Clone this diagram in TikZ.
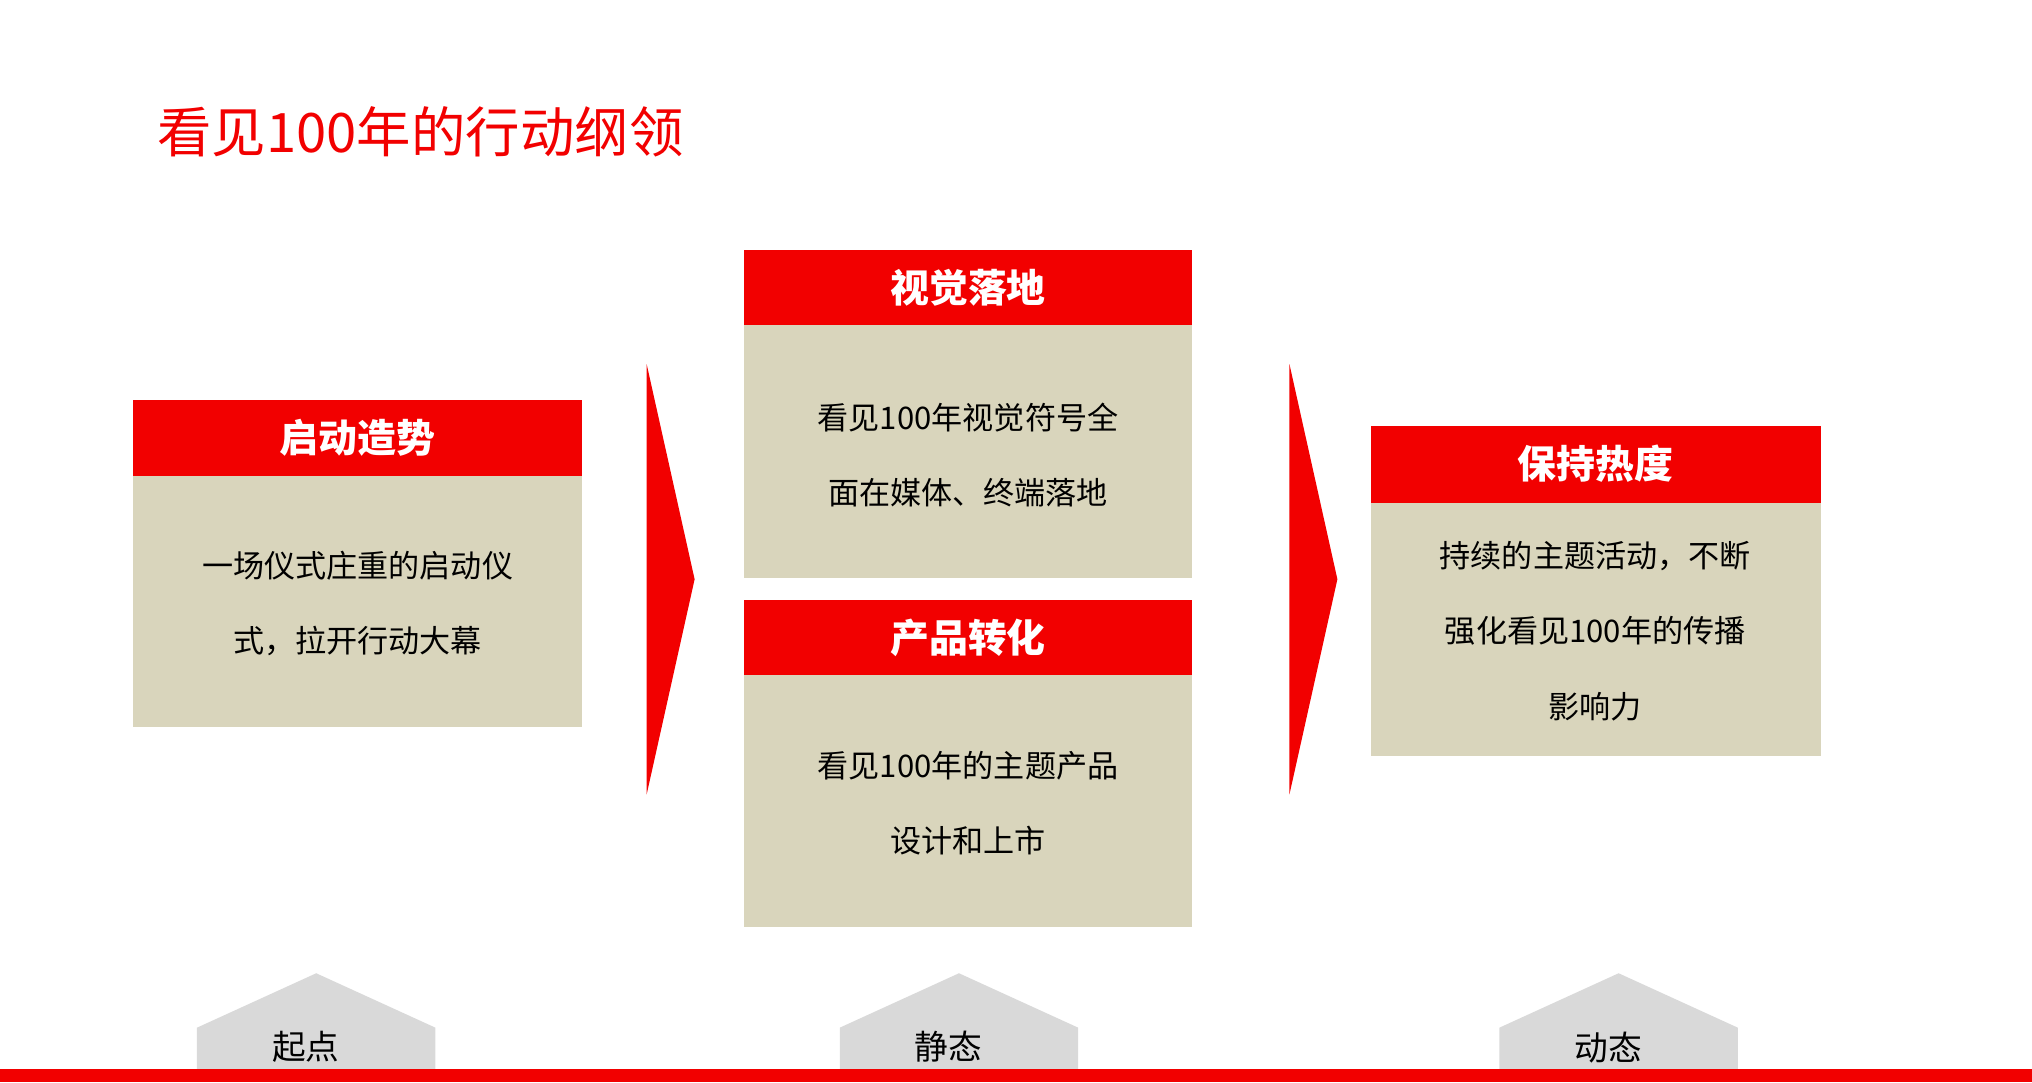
\documentclass[tikz,border=0pt]{standalone}
\usepackage{fontspec}
\newfontfamily\cjk{Noto Sans CJK SC}
\definecolor{myred}{HTML}{F20000}
\definecolor{beige}{HTML}{D9D5BC}
\definecolor{mygray}{HTML}{D9D9D9}
\begin{document}
\begin{tikzpicture}[x=1pt,y=-1pt,
  hdr/.style={fill=myred,draw=none,text=white,font=\cjk\bfseries\fontsize{30}{36}\selectfont},
  bodytxt/.style={align=center,font=\cjk\fontsize{24}{58}\selectfont,text=black},
  lbl/.style={font=\cjk\fontsize{26}{30}\selectfont}]
\useasboundingbox (0,0) rectangle (1568,835);
\node[anchor=west,text=myred,font=\cjk\fontsize{42}{48}\selectfont] (title) at (118,102) {看见100年的行动纲领};
% box 1
\fill[beige] (103,367) rectangle (449,561);
\fill[myred] (103,309) rectangle (449,367);
\node[hdr] (h1) at (276,338) {启动造势};
\node[bodytxt] (b1) at (276,466) {一场仪式庄重的启动仪\\式，拉开行动大幕};
% box 2
\fill[beige] (574,251) rectangle (920,446);
\fill[myred] (574,193) rectangle (920,251);
\node[hdr] (h2) at (747,222) {视觉落地};
\node[bodytxt] (b2) at (747,351) {看见100年视觉符号全\\面在媒体、终端落地};
% box 3
\fill[beige] (574,521) rectangle (920,715);
\fill[myred] (574,463) rectangle (920,521);
\node[hdr] (h3) at (747,492) {产品转化};
\node[bodytxt] (b3) at (747,620) {看见100年的主题产品\\设计和上市};
% box 4
\fill[beige] (1058,388) rectangle (1405,583);
\fill[myred] (1058,329) rectangle (1405,388);
\node[hdr] (h4) at (1231,358) {保持热度};
\node[bodytxt] (b4) at (1231,487) {持续的主题活动，不断\\强化看见100年的传播\\影响力};
% arrows
\fill[myred] (499,281) -- (536,447) -- (499,613) -- cycle;
\fill[myred] (995,281) -- (1032,447) -- (995,613) -- cycle;
% bottom pentagons
\foreach \x/\t in {244/起点,740/静态,1249/动态}{
  \fill[mygray] (\x-92,793) -- (\x,751) -- (\x+92,793) -- (\x+92,826) -- (\x-92,826) -- cycle;
  \node[lbl] at (\x-8,808) {\t};
}
\fill[myred] (0,825) rectangle (1568,835);
\end{tikzpicture}
\end{document}
